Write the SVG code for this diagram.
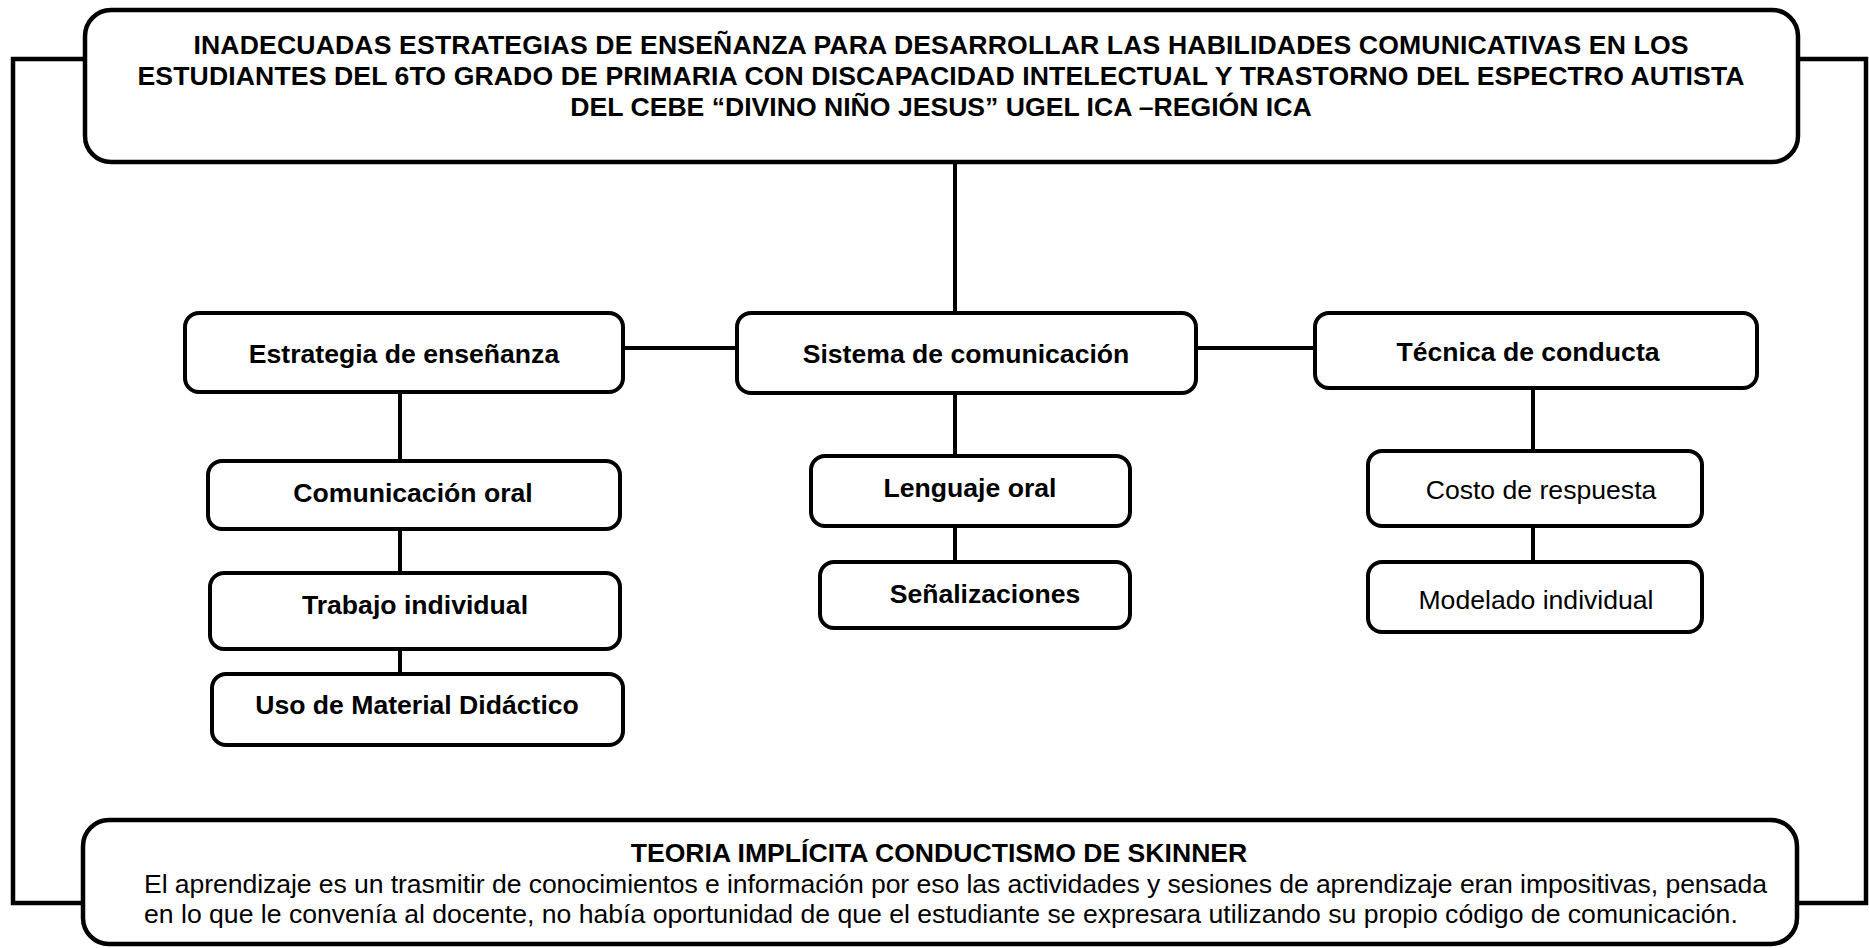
<svg xmlns="http://www.w3.org/2000/svg" width="1869" height="948" viewBox="0 0 1869 948">
<style>
.box{fill:#fff;stroke:#000;stroke-width:4}
.big{fill:#fff;stroke:#000;stroke-width:4.5}
.con{fill:none;stroke:#000;stroke-width:4}
.out{fill:none;stroke:#000;stroke-width:4.5}
text{font-family:"Liberation Sans",Arial,sans-serif;font-size:26.6px;fill:#000;text-anchor:middle}
.b{font-weight:bold}
.l{text-anchor:start}
</style>
<rect width="1869" height="948" fill="#fff"/>
<g id="connectors">
<path class="out" d="M85,59 H13 V903 H83"/>
<path class="out" d="M1798,59 H1866 V903 H1797"/>
<path class="con" d="M955,162 V313"/>
<path class="con" d="M623,348 H737"/>
<path class="con" d="M1196,348 H1315"/>
<path class="con" d="M400,392 V461 M400,529 V573 M400,649 V674"/>
<path class="con" d="M955,393 V456 M955,526 V562"/>
<path class="con" d="M1533,388 V451 M1533,526 V562"/>
</g>
<g id="title">
<rect class="big" x="85" y="10" width="1713" height="152" rx="26"/>
<text class="b" x="941" y="54" textLength="1495" lengthAdjust="spacing">INADECUADAS ESTRATEGIAS DE ENSEÑANZA PARA DESARROLLAR LAS HABILIDADES COMUNICATIVAS EN LOS</text>
<text class="b" x="941" y="85" textLength="1607" lengthAdjust="spacing">ESTUDIANTES DEL 6TO GRADO DE PRIMARIA CON DISCAPACIDAD INTELECTUAL Y TRASTORNO DEL ESPECTRO AUTISTA</text>
<text class="b" x="941" y="116">DEL CEBE “DIVINO NIÑO JESUS” UGEL ICA –REGIÓN ICA</text>
</g>
<g id="estrategia">
<rect class="box" x="185" y="313" width="438" height="79" rx="14"/>
<text class="b" x="404" y="363">Estrategia de enseñanza</text>
</g>
<g id="sistema">
<rect class="box" x="737" y="313" width="459" height="80" rx="14"/>
<text class="b" x="966" y="363">Sistema de comunicación</text>
</g>
<g id="tecnica">
<rect class="box" x="1315" y="313" width="442" height="75" rx="14"/>
<text class="b" x="1528" y="361">Técnica de conducta</text>
</g>
<g id="comunicacion">
<rect class="box" x="208" y="461" width="412" height="68" rx="14"/>
<text class="b" x="413" y="502">Comunicación oral</text>
</g>
<g id="trabajo">
<rect class="box" x="210" y="573" width="410" height="76" rx="14"/>
<text class="b" x="415" y="614">Trabajo individual</text>
</g>
<g id="uso">
<rect class="box" x="212" y="674" width="411" height="71" rx="14"/>
<text class="b" x="417" y="714">Uso de Material Didáctico</text>
</g>
<g id="lenguaje">
<rect class="box" x="811" y="456" width="319" height="70" rx="14"/>
<text class="b" x="970" y="497">Lenguaje oral</text>
</g>
<g id="senalizaciones">
<rect class="box" x="820" y="562" width="310" height="66" rx="14"/>
<text class="b" x="985" y="603">Señalizaciones</text>
</g>
<g id="costo">
<rect class="box" x="1368" y="451" width="334" height="75" rx="14"/>
<text x="1541" y="499">Costo de respuesta</text>
</g>
<g id="modelado">
<rect class="box" x="1368" y="562" width="334" height="70" rx="14"/>
<text x="1536" y="609">Modelado individual</text>
</g>
<g id="teoria">
<rect class="big" x="83" y="820" width="1714" height="124" rx="26"/>
<text class="b" x="939" y="862">TEORIA IMPLÍCITA CONDUCTISMO DE SKINNER</text>
<text class="l" x="144" y="893" textLength="1623" lengthAdjust="spacing">El aprendizaje es un trasmitir de conocimientos e información por eso las actividades y sesiones de aprendizaje eran impositivas, pensada</text>
<text class="l" x="144" y="923">en lo que le convenía al docente, no había oportunidad de que el estudiante se expresara utilizando su propio código de comunicación.</text>
</g>
</svg>
